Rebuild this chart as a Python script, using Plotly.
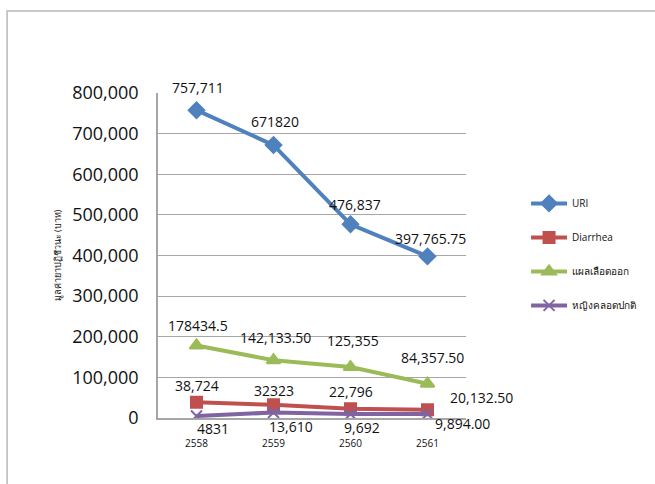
import plotly.graph_objects as go

# Fiscal years (Thai Buddhist calendar)
years = ["2558", "2559", "2560", "2561"]

# Antibiotic cost (baht) per diagnosis group
uri = [757711, 671820, 476837, 397765.75]
diarrhea = [38724, 32323, 22796, 20132.5]
bleeding_wound = [178434.5, 142133.5, 125355, 84357.5]
normal_delivery = [4831, 13610, 9692, 9894]

# Value labels exactly as shown on the chart
uri_labels = ["757,711", "671820", "476,837", "397,765.75"]
diarrhea_labels = ["38,724", "32323", "22,796", "20,132.50"]
bleeding_labels = ["178434.5", "142,133.50", "125,355", "84,357.50"]
delivery_labels = ["4831", "13,610", "9,692", "9,894.00"]

y_ticks = [0, 100000, 200000, 300000, 400000, 500000, 600000, 700000, 800000]

FONT = "Open Sans, Noto Sans, sans-serif"

series = [
    dict(name="URI", y=uri, labels=uri_labels, color="#4F81BD",
         symbol="diamond", size=12,
         offsets=[(1, 23), (1, 24), (4, 20), (3, 18)]),
    dict(name="Diarrhea", y=diarrhea, labels=diarrhea_labels, color="#C0504D",
         symbol="square", size=11,
         offsets=[(0, 17), (0, 14), (0, 17), (54, 12)]),
    dict(name="แผลเลือดออก", y=bleeding_wound, labels=bleeding_labels,
         color="#9BBB59", symbol="triangle-up", size=12,
         offsets=[(1, 20), (2, 23), (2, 27), (5, 26)]),
    dict(name="หญิงคลอดปกติ", y=normal_delivery, labels=delivery_labels,
         color="#8064A2", symbol="x-thin", size=11,
         offsets=[(16, -12), (17, -14), (11, -13), (35, -10)]),
]

fig = go.Figure()
annotations = []
for i, s in enumerate(series):
    fig.add_trace(go.Scatter(
        x=years, y=s["y"], name=s["name"], mode="lines+markers",
        line=dict(color=s["color"], width=4),
        marker=dict(symbol=s["symbol"], size=s["size"], color=s["color"],
                    line=dict(color=s["color"], width=2)),
        legendgroup=f"g{i}",
    ))
    # category index positions keep numeric-looking year labels on their slot
    for idx, (yv, txt, (dx, dy)) in enumerate(zip(s["y"], s["labels"], s["offsets"])):
        annotations.append(dict(
            x=idx, y=yv, xref="x", yref="y", text=txt, showarrow=False,
            xshift=dx, yshift=dy, font=dict(family=FONT, size=14, color="#111"),
        ))

# Rotated y-axis title
annotations.append(dict(
    x=-0.325, y=0.50, xref="paper", yref="paper", text="มูลค่ายาปฏิชีวนะ (บาท)",
    xanchor="center", yanchor="middle",
    textangle=-90, showarrow=False, font=dict(family=FONT, size=9, color="#111"),
))

fig.update_layout(
    width=655, height=484,
    margin=dict(l=158, r=189, t=93, b=66, autoexpand=False),
    paper_bgcolor="white", plot_bgcolor="white",
    font=dict(family=FONT, color="#111"),
    showlegend=True,
    legend=dict(x=1.195, y=0.705, xanchor="left", yanchor="top",
                font=dict(family=FONT, size=10, color="#111"),
                tracegroupgap=15, itemwidth=36, bgcolor="rgba(0,0,0,0)"),
    annotations=annotations,
    shapes=[dict(type="rect", xref="paper", yref="paper",
                 x0=-0.49, x1=2, y0=-1, y1=1.2523,
                 line=dict(color="#b8b8b8", width=1.5), layer="below")],
)
fig.update_xaxes(
    type="category", range=[-0.5, 3.5], showgrid=False,
    showline=True, linecolor="#a6a6a6", linewidth=1.5,
    tickfont=dict(family=FONT, size=10, color="#111"), ticks="",
    ticklabelstandoff=15,
)
fig.update_yaxes(
    range=[0, 800000], tickvals=y_ticks, tickformat=",d",
    showgrid=True, gridcolor="#a6a6a6", gridwidth=1,
    showline=True, linecolor="#a6a6a6", linewidth=1.5, zeroline=False,
    tickfont=dict(family=FONT, size=18, color="#111"), ticklabelstandoff=14,
)

fig.write_html("out.html")
